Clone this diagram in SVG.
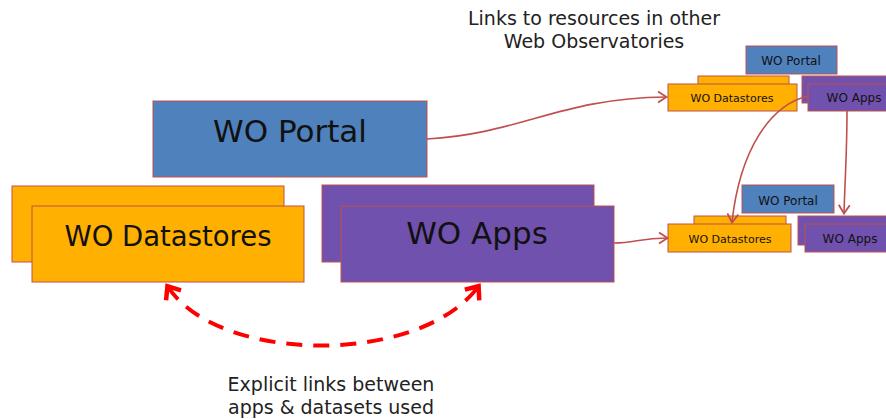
<svg xmlns="http://www.w3.org/2000/svg" width="886" height="419" viewBox="0 0 886 419">
<style>
.b{fill:#4F81BD;stroke:#C0504D;stroke-width:1}
.o{fill:#FFB000;stroke:#C0504D;stroke-width:1}
.p{fill:#7052AE;stroke:#C0504D;stroke-width:1}
text{font-family:"DejaVu Sans","Liberation Sans",sans-serif;fill:#111;text-anchor:middle}
.big{font-size:31px}
.sm{font-size:11px}
.note{font-size:19px;fill:#222}
.c{fill:none;stroke:#C0504D;stroke-width:1.6}
.d{fill:none;stroke:#FF0000;stroke-width:4;stroke-dasharray:16 11}
</style>
<defs>
<marker id="a" markerWidth="14" markerHeight="14" refX="10" refY="7" orient="auto" markerUnits="userSpaceOnUse">
<path d="M2,1.5 L10.5,7 L2,12.5" fill="none" stroke="#C0504D" stroke-width="1.8"/>
</marker>
<marker id="r" markerWidth="24" markerHeight="24" refX="14" refY="12" orient="auto-start-reverse" markerUnits="userSpaceOnUse">
<path d="M4,3 L15,12 L4,21" fill="none" stroke="#FF0000" stroke-width="4.5"/>
</marker>
</defs>
<text class="note" x="594" y="25">Links to resources in other</text>
<text class="note" x="594" y="48">Web Observatories</text>
<text class="note" x="331" y="391">Explicit links between</text>
<text class="note" x="331" y="414">apps &amp; datasets used</text>
<g id="portal"><rect class="b" x="153" y="101" width="274" height="76"/><text class="big" x="290" y="142">WO Portal</text></g>
<g id="datastores"><rect class="o" x="12" y="186" width="272" height="76"/><rect class="o" x="32" y="206" width="272" height="76"/><text class="big" x="168" y="246" style="font-size:27.5px">WO Datastores</text></g>
<g id="apps"><rect class="p" x="322" y="185" width="272" height="77"/><rect class="p" x="341" y="206" width="273" height="76"/><text class="big" x="477" y="244">WO Apps</text></g>
<g id="top-portal"><rect class="b" x="746" y="46" width="91" height="28"/><text class="sm" x="791" y="65" style="font-size:12px">WO Portal</text></g>
<g id="top-datastores"><rect class="o" x="698" y="76" width="91" height="27"/><rect class="o" x="668" y="84" width="129" height="27"/><text class="sm" x="732" y="102">WO Datastores</text></g>
<g id="top-apps"><rect class="p" x="802" y="76" width="90" height="27"/><rect class="p" x="808" y="84" width="84" height="27"/><text class="sm" x="854" y="102" style="font-size:12px">WO Apps</text></g>
<g id="bottom-portal"><rect class="b" x="742" y="185" width="92" height="28"/><text class="sm" x="788" y="205" style="font-size:12px">WO Portal</text></g>
<g id="bottom-datastores"><rect class="o" x="694" y="216" width="92" height="28"/><rect class="o" x="668" y="224" width="123" height="28"/><text class="sm" x="730" y="243">WO Datastores</text></g>
<g id="bottom-apps"><rect class="p" x="798" y="216" width="94" height="29"/><rect class="p" x="805" y="224" width="87" height="28"/><text class="sm" x="850" y="243" style="font-size:12px">WO Apps</text></g>
<g id="connectors">
<path class="c" d="M427,139 C520,134 560,98 666,97" marker-end="url(#a)"/>
<path class="c" d="M614,243 C635,243 640,238 667,238" marker-end="url(#a)"/>
<path class="c" d="M808,96 C770,105 740,150 732,222" marker-end="url(#a)"/>
<path class="c" d="M847,111 C847,150 845,180 844,213" marker-end="url(#a)"/>
<path class="d" d="M168,287 C220,365 420,365 478,287" marker-start="url(#r)" marker-end="url(#r)"/>
</g>
</svg>
